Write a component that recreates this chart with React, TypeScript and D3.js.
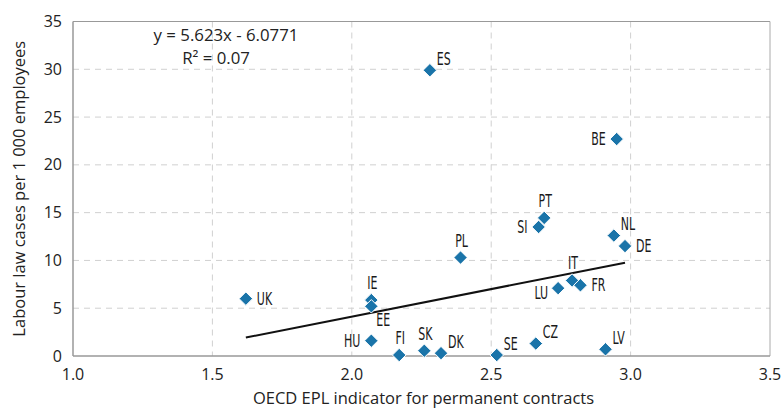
import React from "react";
import * as d3 from "d3";

const countries = ["UK", "IE", "EE", "HU", "FI", "SK", "DK", "SE", "CZ", "LV", "PL", "PT", "SI", "NL", "DE", "IT", "FR", "LU", "ES", "BE"];
const eplValues = [1.62, 2.07, 2.07, 2.07, 2.17, 2.26, 2.32, 2.52, 2.66, 2.91, 2.39, 2.69, 2.67, 2.94, 2.98, 2.79, 2.82, 2.74, 2.28, 2.95];
const caseValues = [6.0, 5.85, 5.2, 1.6, 0.1, 0.55, 0.3, 0.1, 1.3, 0.7, 10.3, 14.45, 13.5, 12.6, 11.5, 7.9, 7.4, 7.1, 29.9, 22.7];
// label placement: r = right-above, R = right-middle, l = left-middle, a = above, b = below-right
const labelPos = ["R", "a", "b", "l", "a", "a", "r", "r", "r", "r", "a", "a", "l", "r", "R", "a", "R", "lb", "r", "l"];

const xTicks = [1.0, 1.5, 2.0, 2.5, 3.0, 3.5];
const yTicks = [0, 5, 10, 15, 20, 25, 30, 35];
const trendSlope = 5.76;
const trendIntercept = -7.4;
const equationText = "y = 5.623x - 6.0771";
const r2Text = "R² = 0.07";

const W = 784;
const H = 410;
const M = { left: 73, right: 14, top: 21.5, bottom: 54 };
const FONT = "'Open Sans', 'DejaVu Sans', sans-serif";
const NARROW = "'Liberation Sans Narrow', 'DejaVu Sans Condensed', sans-serif";
const BLUE = "#1a74a9";

export default function App() {
  const x = d3.scaleLinear().domain([1, 3.5]).range([M.left, W - M.right]);
  const y = d3.scaleLinear().domain([0, 35]).range([H - M.bottom, M.top]);
  const [x0, x1] = d3.extent(eplValues) as [number, number];
  const line = d3.line<number>().x((d) => x(d)).y((d) => y(trendSlope * d + trendIntercept));
  const diamond = d3.symbol().type(d3.symbolDiamond2).size(116)();

  const labelOffset = (p: string) => {
    switch (p) {
      case "R": return { dx: 11, dy: 6, anchor: "start" };
      case "r": return { dx: 7, dy: -5.5, anchor: "start" };
      case "l": return { dx: -11, dy: 6, anchor: "end" };
      case "lb": return { dx: -10, dy: 11, anchor: "end" };
      case "a": return { dx: 1, dy: -11, anchor: "middle" };
      case "b": return { dx: 5, dy: 20, anchor: "start" };
      default: return { dx: 0, dy: 0, anchor: "start" };
    }
  };

  const plotBottom = y(0);
  const plotTop = y(35);
  const plotLeft = x(1);
  const plotRight = x(3.5);

  return (
    <svg width={W} height={H} style={{ position: "absolute", left: 0, top: 0, background: "#fff" }}>
      <g>
        {yTicks.filter((t) => t > 0 && t < 35).map((t) => (
          <line key={"gy" + t} x1={plotLeft} x2={plotRight} y1={y(t)} y2={y(t)} stroke="#d0d0d0" strokeWidth={1} strokeDasharray="6,5" />
        ))}
        {xTicks.filter((t) => t > 1 && t < 3.5).map((t) => (
          <line key={"gx" + t} x1={x(t)} x2={x(t)} y1={plotTop} y2={plotBottom} stroke="#d0d0d0" strokeWidth={1} strokeDasharray="6,5" />
        ))}
        <line x1={plotLeft} x2={plotRight} y1={plotTop} y2={plotTop} stroke="#999" strokeWidth={1} />
        <line x1={plotRight} x2={plotRight} y1={plotTop} y2={plotBottom} stroke="#aaa" strokeWidth={1} />
        <line x1={plotLeft} x2={plotLeft} y1={plotTop} y2={plotBottom} stroke="#999" strokeWidth={1.5} />
        <line x1={plotLeft} x2={plotRight} y1={plotBottom} y2={plotBottom} stroke="#999" strokeWidth={1.5} />
      </g>
      <g fontFamily={FONT} fontSize={16} fill="#222">
        {yTicks.map((t) => (
          <text key={"ty" + t} x={plotLeft - 11} y={y(t)} dy="0.35em" textAnchor="end">{t}</text>
        ))}
        {xTicks.map((t) => (
          <text key={"tx" + t} x={x(t)} y={plotBottom + 24} textAnchor="middle">{t.toFixed(1)}</text>
        ))}
        <text x={(plotLeft + plotRight) / 2 + 2} y={404} textAnchor="middle" fontSize={16.5}>OECD EPL indicator for permanent contracts</text>
        <text transform={`translate(25,${(plotTop + plotBottom) / 2}) rotate(-90)`} textAnchor="middle" fontSize={16.5}>Labour law cases per 1 000 employees</text>
        <text x={226} y={41} textAnchor="middle" fontSize={16.8}>{equationText}</text>
        <text x={216} y={64} textAnchor="middle" fontSize={16.8}>{r2Text}</text>
      </g>
      <path d={line([x0, x1]) || ""} fill="none" stroke="#111" strokeWidth={2} />
      <g>
        {countries.map((c, i) => (
          <path key={"m" + c} d={diamond || ""} transform={`translate(${x(eplValues[i])},${y(caseValues[i])})`} fill={BLUE} stroke="#fff" strokeWidth={1} />
        ))}
      </g>
      <g fontFamily={NARROW} fontSize={17} fill="#1a1a1a">
        {countries.map((c, i) => {
          const o = labelOffset(labelPos[i]);
          return (
            <g key={"l" + c} transform={`translate(${x(eplValues[i]) + o.dx},${y(caseValues[i]) + o.dy}) scale(0.72,1)`}>
              <text textAnchor={o.anchor}>{c}</text>
            </g>
          );
        })}
      </g>
    </svg>
  );
}
